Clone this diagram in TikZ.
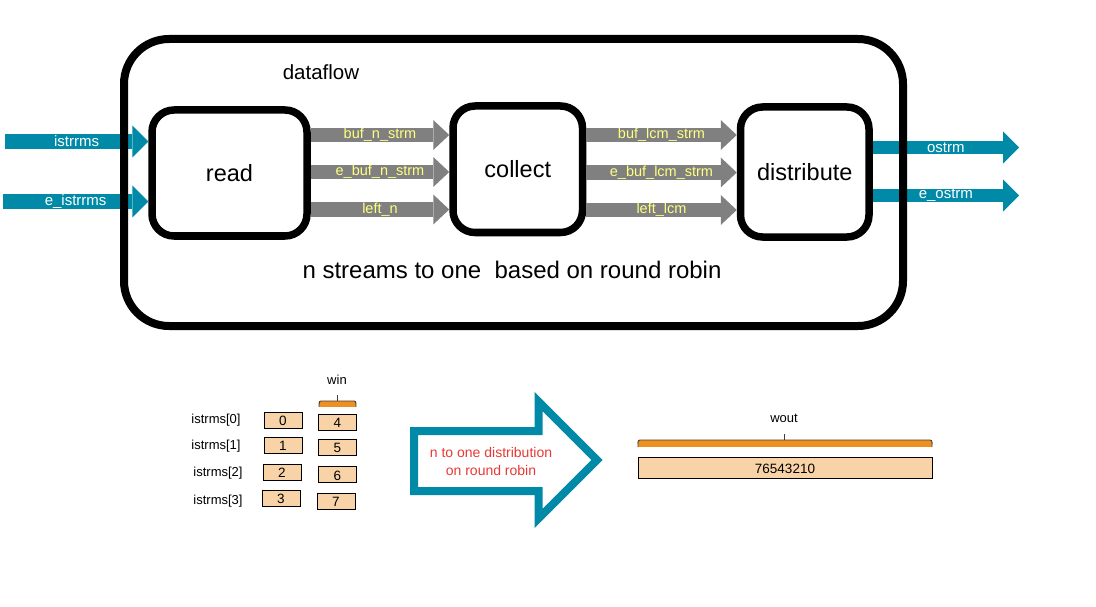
\documentclass[tikz,border=0pt]{standalone}
\usepackage{fontspec}
\setmainfont{Liberation Sans}
\usetikzlibrary{arrows.meta}
\definecolor{teal1}{RGB}{0,138,167}
\definecolor{grayarr}{RGB}{128,128,128}
\definecolor{ylab}{RGB}{255,255,128}
\definecolor{peach}{RGB}{248,211,168}
\definecolor{orng}{RGB}{238,143,34}
\definecolor{redtxt}{RGB}{232,56,52}
\definecolor{brk}{RGB}{70,60,50}
\begin{document}
\begin{tikzpicture}[x=1pt,y=-1pt,
 blockbox/.style={draw=black, line width=7.5pt, rounded corners=22pt, fill=white, font=\fontsize{23.5}{26}\selectfont, inner sep=0pt},
 grayarrow/.style={draw=grayarr, line width=14.5pt, -{Triangle[length=16pt,width=30pt,line width=0pt]}},
 bluearrow/.style={draw=teal1, line width=15pt, -{Triangle[length=16pt,width=32pt,line width=0pt]}},
 arrlabel/.style={font=\fontsize{14.5}{16}\selectfont, text=ylab, inner sep=0pt},
 bluelabel/.style={font=\fontsize{15}{17}\selectfont, text=white, inner sep=0pt},
 cell/.style={draw=black, line width=0.8pt, fill=peach, minimum width=38pt, minimum height=16pt, inner sep=0pt, text height=11pt, text depth=0pt, font=\fontsize{13.5}{15}\selectfont},
 smalltext/.style={font=\fontsize{13}{15}\selectfont, inner sep=0pt},
 bracketfill/.style={fill=orng},
 bracketline/.style={draw=brk, line width=0.9pt},
]
\useasboundingbox (0,0) rectangle (1096,607);

% blocks
\node[blockbox, minimum width=155pt, minimum height=126pt] (read) at (229.5,173) {read};
\node[blockbox, minimum width=129.5pt, minimum height=126.5pt] (collect) at (517.75,169.25) {collect};
\node[blockbox, minimum width=128.5pt, minimum height=130pt] (distribute) at (804.75,172) {distribute};

% gray arrows
\coordinate (g1) at (0,135);
\coordinate (g2) at (0,172);
\coordinate (g3) at (0,209.5);
\coordinate (h1) at (0,135);
\coordinate (h2) at (0,172.5);
\coordinate (h3) at (0,210);
\draw[grayarrow] (read.east |- g1) -- node[arrlabel]{buf\_n\_strm} (collect.west |- g1);
\draw[grayarrow] (read.east |- g2) -- node[arrlabel]{e\_buf\_n\_strm} (collect.west |- g2);
\draw[grayarrow] (read.east |- g3) -- node[arrlabel]{left\_n} (collect.west |- g3);
\draw[grayarrow] (collect.east |- h1) -- node[arrlabel]{buf\_lcm\_strm} (distribute.west |- h1);
\draw[grayarrow] (collect.east |- h2) -- node[arrlabel]{e\_buf\_lcm\_strm} (distribute.west |- h2);
\draw[grayarrow] (collect.east |- h3) -- node[arrlabel]{left\_lcm} (distribute.west |- h3);

% blue arrows
\coordinate (in1) at (5,141.5);
\coordinate (in2) at (3,201.5);
\coordinate (out1) at (1019,147.5);
\coordinate (out2) at (1019,195.5);
\draw[bluearrow] (in1) -- node[bluelabel]{istrrms} (read.west |- in1);
\draw[bluearrow] (in2) -- node[bluelabel]{e\_istrrms} (read.west |- in2);
\draw[bluearrow, line width=13.5pt] (distribute.east |- out1) -- node[bluelabel]{ostrm} (out1);
\draw[bluearrow, line width=13.5pt] (distribute.east |- out2) -- node[bluelabel]{e\_ostrm} (out2);

% outer dataflow box
\node[draw=black, line width=8pt, rounded corners=45pt, minimum width=779pt, minimum height=287pt, inner sep=0pt] (dataflowbox) at (513.5,182.5) {};
\node[font=\fontsize{20.5}{23}\selectfont, inner sep=0pt] (dflabel) at (321,72) {dataflow};
\node[font=\fontsize{24}{27}\selectfont, inner sep=0pt] (rrlabel) at (512,270) {n streams to one~ based on round robin};

% bottom left: input windows
\node[smalltext] (win) at (337,380) {win};
\fill[bracketfill] (319,401) rectangle (356,407);
\draw[bracketline] (319,407) to[out=90,in=180] (321,401) -- (354,401) to[out=0,in=90] (356,407);
\draw[bracketline] (337.5,401) -- (337.5,395);

\node[smalltext] (l0) at (216,420) {istrms[0]};
\node[smalltext] (l1) at (216,446) {istrms[1]};
\node[smalltext] (l2) at (218,473) {istrms[2]};
\node[smalltext] (l3) at (218,501) {istrms[3]};
\node[cell] (c0) at (283,420) {0};
\node[cell] (c4) at (337.5,422) {4};
\node[cell] (c1) at (283,445) {1};
\node[cell] (c5) at (337.5,447) {5};
\node[cell] (c2) at (282,472) {2};
\node[cell] (c6) at (337.5,474.5) {6};
\node[cell] (c3) at (281,498) {3};
\node[cell] (c7) at (336,501) {7};

% big arrow
\draw[teal1, line width=8pt, miter limit=10] (414,431) -- (538.5,431) -- (538.5,401.5) -- (597,460) -- (538.5,518.5) -- (538.5,491) -- (414,491) -- cycle;
\node[text=redtxt, font=\fontsize{14}{18}\selectfont, align=center, inner sep=0pt] (bigtxt) at (491,461) {n to one distribution\\on round robin};

% output window
\node[smalltext] (wout) at (784,418) {wout};
\fill[bracketfill] (638,440) rectangle (932,447);
\draw[bracketline] (638,447) to[out=90,in=180] (640,440) -- (930,440) to[out=0,in=90] (932,447);
\draw[bracketline] (784,440) -- (784,434);
\node[cell, minimum width=294pt, minimum height=21pt] (woutcell) at (785,467.5) {76543210};
\end{tikzpicture}
\end{document}
